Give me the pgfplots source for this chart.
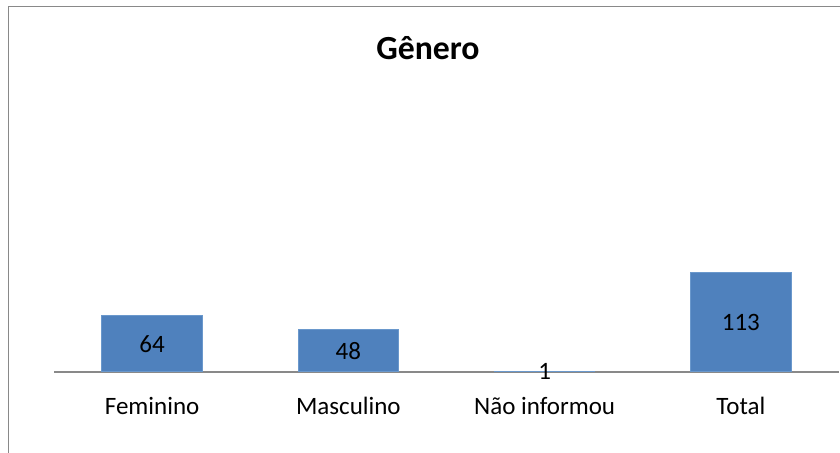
\documentclass[border=0pt]{standalone}
\usepackage{fontspec}
\setmainfont{Carlito}
\usepackage{pgfplots}
\pgfplotsset{compat=1.18}
\definecolor{barblue}{HTML}{4F81BD}
\definecolor{baredge}{HTML}{6A98CC}
\definecolor{framegray}{HTML}{898989}
\begin{document}
\begin{tikzpicture}
\useasboundingbox (0,0) rectangle (336pt,181.2pt);
\clip (0,0) rectangle (336pt,181.2pt);
\draw[framegray, line width=0.5pt] (3.3pt,-10pt) -- (3.3pt,178.5pt) -- (350pt,178.5pt);
\node[anchor=base, font=\fontsize{13.5}{16}\selectfont\bfseries] at (171.2pt,157.5pt) {Gênero};
\begin{axis}[
  at={(21.6pt,32.4pt)}, anchor=south west,
  scale only axis, width=314pt, height=116.8pt,
  xmin=-0.5, xmax=3.5, ymin=0, ymax=330,
  axis x line=bottom, axis y line=none,
  axis line style={framegray, line width=0.5pt, -},
  x axis line style={-},
  xtick=data,
  xticklabels={Feminino, Masculino, Não informou, Total},
  major tick length=0pt,
  xticklabel style={font=\fontsize{10}{12}\selectfont, yshift=-6.5pt},
  ybar, bar width=40.2pt,
  /pgf/number format/assume math mode=true,
  nodes near coords,
  visualization depends on={rawy \as \rawy},
  every node near coord/.append style={font=\fontsize{10}{12}\selectfont, anchor=center, yshift={-0.17697*\rawy}, inner sep=0pt},
  clip=false,
]
\addplot[fill=barblue, draw=baredge, line width=0.4pt] coordinates {(0,64) (1,48) (2,1) (3,113)};
\end{axis}
\end{tikzpicture}
\end{document}
